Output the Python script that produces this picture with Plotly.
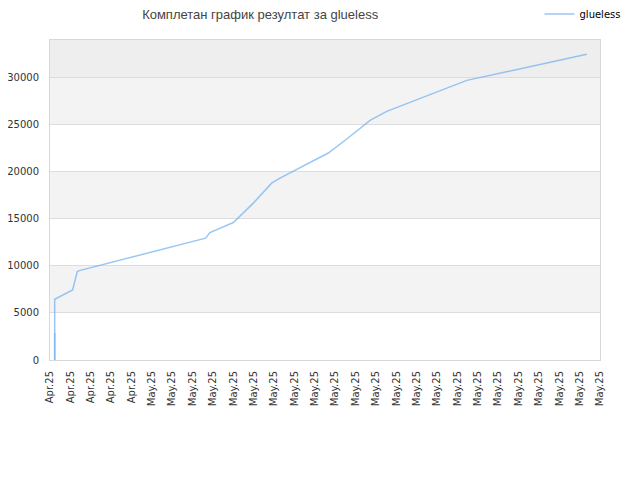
import plotly.graph_objects as go

# x positions are in tick-slot units (0 = first label, 27 = last label)
tick_labels = ["Apr.25"] * 5 + ["May.25"] * 23

x_pos = [0.23, 0.23, 1.11, 1.19, 1.34, 1.44, 7.64, 7.85, 9.0, 9.98, 10.88,
         11.29, 13.66, 14.57, 15.71, 16.53, 17.18, 20.46, 26.35]
results = [0, 6457, 7447, 8160, 9394, 9500, 12947, 13543, 14606, 16670, 18794,
           19330, 21989, 23479, 25457, 26415, 26947, 29713, 32479]

# the very first days overlap at the bottom of the spike
spike_x = [0.23, 0.23]
spike_y = [0, 2870]

band_edges = [0, 5000, 10000, 15000, 20000, 25000, 30000, 34000]
band_colors = ["#ffffff", "#f3f3f3", "#ffffff", "#f3f3f3", "#ffffff", "#f3f3f3", "#eeeeee"]

line_color = "rgba(110,175,240,0.7)"

fig = go.Figure()
fig.add_trace(go.Scatter(x=x_pos, y=results, mode="lines", name="glueless",
                         line=dict(color=line_color, width=1.5)))
fig.add_trace(go.Scatter(x=spike_x, y=spike_y, mode="lines", showlegend=False,
                         line=dict(color=line_color, width=1.5)))

shapes = []
for i, c in enumerate(band_colors):
    shapes.append(dict(type="rect", xref="paper", yref="y", x0=0, x1=1,
                       y0=band_edges[i], y1=band_edges[i + 1],
                       fillcolor=c, line_width=0, layer="below"))

# page body adds an 8px margin, so the figure is 8px smaller and offset
fig.update_layout(
    width=632, height=472,
    margin=dict(l=42, r=40, t=32, b=120, autoexpand=False),
    paper_bgcolor="white", plot_bgcolor="white",
    font=dict(family="DejaVu Sans", size=10, color="#333333"),
    title=dict(text="Комплетан график резултат за glueless", xref="container",
               x=0.399, xanchor="center", yref="container", y=0.995, yanchor="top",
               pad=dict(t=0, b=0),
               font=dict(family="Liberation Sans", size=13, color="#444444")),
    showlegend=True,
    legend=dict(x=0.89, y=1.081, xanchor="left", yanchor="middle",
                font=dict(size=10, color="#000000"), itemwidth=30,
                bgcolor="rgba(0,0,0,0)"),
    shapes=shapes,
    xaxis=dict(range=[0, 27], tickmode="array", tickvals=list(range(len(tick_labels))),
               ticktext=tick_labels, tickangle=-90, showgrid=False, zeroline=False,
               showline=True, mirror=True, linecolor="#d8d8d8", linewidth=1,
               ticks="", ticklabelstandoff=6),
    yaxis=dict(range=[0, 34000], tickmode="array",
               tickvals=[0, 5000, 10000, 15000, 20000, 25000, 30000],
               ticktext=["0", "5000", "10000", "15000", "20000", "25000", "30000"],
               showgrid=True, gridcolor="#dddddd", zeroline=False,
               showline=True, mirror=True, linecolor="#d8d8d8", linewidth=1,
               ticks="", ticklabelstandoff=8),
)

fig.write_html("out.html")
